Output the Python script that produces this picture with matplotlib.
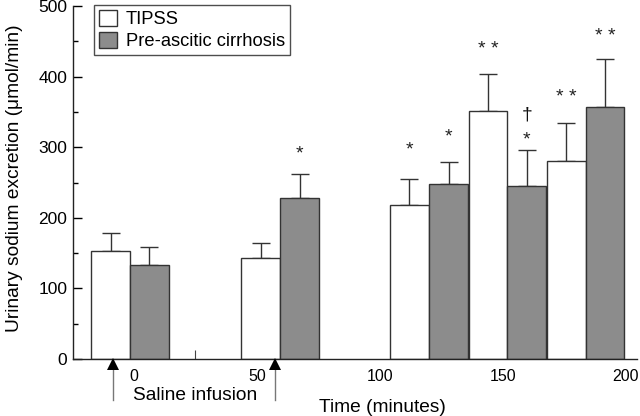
import matplotlib
matplotlib.use("Agg")
import matplotlib.pyplot as plt
from matplotlib.patches import Patch

plt.rcParams['font.family'] = ['Liberation Sans', 'DejaVu Sans']

# Data
tipss_x = [-9.5, 51.6, 111.9, 143.9, 175.7]
tipss_val = [153, 143, 218, 351, 281]
tipss_err = [25, 21, 37, 53, 53]
cirr_x = [6.3, 67.4, 127.9, 159.7, 191.5]
cirr_val = [133, 228, 248, 245, 357]
cirr_err = [25, 34, 31, 51, 68]

tipss_marks = ["", "", "*", "* *", "* *"]
tipss_mark_y = [0, 0, 296, 438, 371]
cirr_marks = ["", "*", "*", "*", "* *"]
cirr_mark_y = [0, 290, 314, 310, 457]
dagger_x = 159.7
dagger_y = 346

xtick_vals = [0, 50, 100, 150, 200]
xminor_vals = [25, 75, 125, 175]
ytick_vals = [0, 100, 200, 300, 400, 500]
yminor_vals = [50, 150, 250, 350, 450]
arrow_x = [-8.4, 57.5]

bar_w = 15.8
grey = '#8c8c8c'
edge = '#333333'

fig = plt.figure(figsize=(6.4, 4.16), dpi=100)
ax = fig.add_axes([73/640, 1-359/416, (637-73)/640, (359-6)/416])

ax.bar(tipss_x, tipss_val, width=bar_w, color='white', edgecolor=edge, linewidth=1.0, zorder=2)
ax.bar(cirr_x, cirr_val, width=bar_w, color=grey, edgecolor=edge, linewidth=1.0, zorder=2)
ax.errorbar(tipss_x, tipss_val, yerr=[[0]*5, tipss_err], fmt='none', ecolor=edge,
            elinewidth=1.0, capsize=6.5, capthick=1.0, zorder=1)
ax.errorbar(cirr_x, cirr_val, yerr=[[0]*5, cirr_err], fmt='none', ecolor=edge,
            elinewidth=1.0, capsize=6.5, capthick=1.0, zorder=1)

for x, m, y in zip(tipss_x, tipss_marks, tipss_mark_y):
    if m:
        ax.text(x, y, m, ha='center', va='center', fontsize=14, color='#222222')
for x, m, y in zip(cirr_x, cirr_marks, cirr_mark_y):
    if m:
        ax.text(x, y, m, ha='center', va='center', fontsize=14, color='#222222')
ax.text(dagger_x, dagger_y, '†', ha='center', va='center', fontsize=14, color='#111111')

ax.set_xlim(-24.8, 204.5)
ax.set_ylim(0, 500)
ax.spines['top'].set_visible(False)
ax.spines['right'].set_visible(False)
for s in ['left', 'bottom']:
    ax.spines[s].set_linewidth(1.0)
    ax.spines[s].set_color('#222222')

ax.set_xticks(xtick_vals)
ax.set_xticklabels([str(v) for v in xtick_vals], fontsize=11.5)
ax.set_xticks(xminor_vals, minor=True)
ax.tick_params(axis='x', which='major', length=0, pad=7)
ax.tick_params(axis='x', which='minor', direction='in', length=6.5, width=0.8, color='#444444')

ax.set_yticks(ytick_vals)
ax.set_yticklabels([str(v) for v in ytick_vals], fontsize=12.5)
ax.set_yticks(yminor_vals, minor=True)
ax.tick_params(axis='y', which='major', direction='in', length=6.5, width=1.0, pad=4)
ax.tick_params(axis='y', which='minor', direction='in', length=3.5, width=1.0)

# arrows for saline infusion
for x in arrow_x:
    ax.plot([x, x], [-58, -10], color='#777777', lw=1.0, clip_on=False, zorder=3)
    ax.plot([x], [-6.5], marker='^', markersize=8, color='black', clip_on=False,
            markeredgewidth=0, zorder=4)

fig.text(195/640, 1-395/416, 'Saline infusion', ha='center', va='center', fontsize=13.8)
fig.text(382/640, 1-408/416, 'Time (minutes)', ha='center', va='center', fontsize=13.8)
fig.text(15/640, 1-178/416, 'Urinary sodium excretion (μmol/min)', ha='center', va='center',
         rotation=90, fontsize=13.8)

handles = [Patch(facecolor='white', edgecolor=edge, linewidth=1.0),
           Patch(facecolor=grey, edgecolor=edge, linewidth=1.0)]
leg = ax.legend(handles, ['TIPSS', 'Pre-ascitic cirrhosis'], loc='upper left',
                bbox_to_anchor=((94-73)/564, 1+1/353), fontsize=13.2, frameon=True,
                fancybox=False, edgecolor='#222222', handlelength=1.0, handleheight=1.0,
                handletextpad=0.5, borderpad=0.25, labelspacing=0.2, borderaxespad=0)
leg.get_frame().set_linewidth(1.0)

fig.savefig('out.png', dpi=100)
